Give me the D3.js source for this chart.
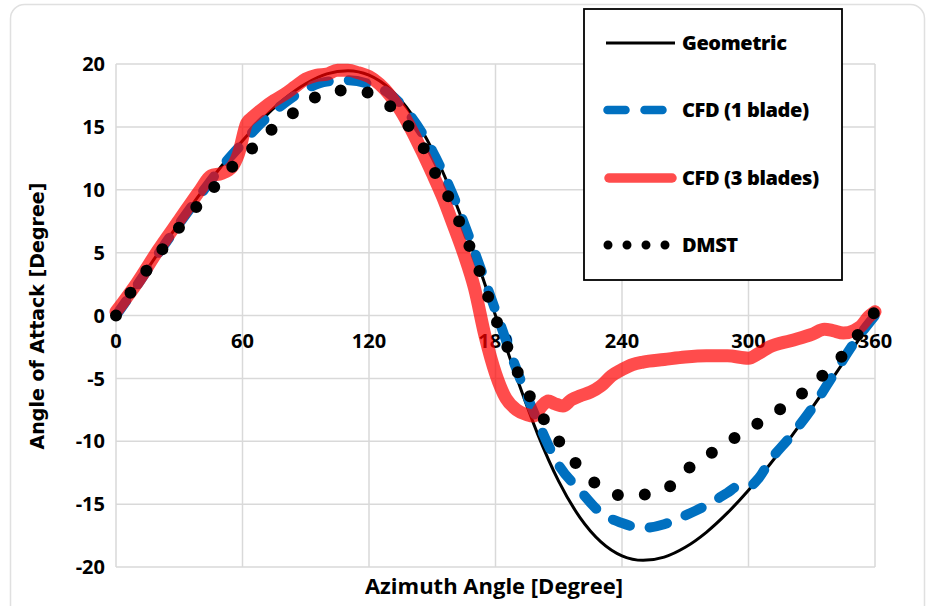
<!DOCTYPE html>
<html><head><meta charset="utf-8">
<script src="https://cdn.jsdelivr.net/npm/d3@7"></script>
<style>
html,body{margin:0;padding:0;background:#fff;}
svg{display:block;}
</style></head>
<body>
<svg id="c" width="932" height="606"></svg>
<script>
// ---- data ----
const xTicks = [0, 60, 120, 180, 240, 300, 360];
const yTicks = [-20, -15, -10, -5, 0, 5, 10, 15, 20];
const seriesNames = ["Geometric", "CFD (1 blade)", "CFD (3 blades)", "DMST"];

const geoAz  = [0,10,20,30,40,50,60,70,80,90,100,110,120,130,140,150,160,170,180,190,200,210,220,230,240,250,260,270,280,290,300,310,320,330,340,350,360];
const geoVal = [0,2.49,4.96,7.37,9.69,11.87,13.9,15.7,17.24,18.43,19.21,19.47,19.11,18.0,16.05,13.19,9.43,4.92,0,-4.92,-9.43,-13.19,-16.05,-18.0,-19.11,-19.47,-19.21,-18.43,-17.24,-15.7,-13.9,-11.87,-9.69,-7.37,-4.96,-2.49,0];

const blueAz  = [0,10,20,30,40,50,60,70,80,90,100,110,120,130,140,150,160,170,180,190,200,210,220,230,240,250,260,270,280,290,295,300,305,310,320,330,340,350,360];
const blueVal = [0,2.4,4.9,7.3,9.6,11.8,13.7,15.5,16.9,18.0,18.6,18.7,18.4,17.6,15.8,13.1,9.5,5.1,0.4,-4.3,-8.4,-11.9,-13.9,-15.7,-16.5,-16.9,-16.6,-15.9,-15.1,-14.1,-13.6,-13.6,-12.9,-11.6,-9.6,-7.4,-4.8,-2.2,0];

const redAz  = [0,10,20,30,40,45,50,55,58,62,65,70,75,80,85,90,95,100,105,110,115,120,125,130,135,140,145,150,155,160,165,170,175,180,185,190,195,198,202,205,208,212,216,220,225,230,235,240,245,250,260,270,280,290,300,305,310,320,330,336,340,345,350,353,357,360];
const redVal = [0.3,2.6,5.2,7.6,10.0,11.1,11.3,11.8,12.8,15.3,15.8,16.5,17.1,17.6,18.2,18.8,19.1,19.2,19.5,19.5,19.3,19.0,18.4,17.5,16.3,14.8,13.1,11.3,9.4,7.2,4.9,2.2,-1.6,-4.6,-6.6,-7.5,-7.9,-8.0,-7.2,-6.8,-7.0,-7.2,-6.7,-6.4,-6.1,-5.6,-4.8,-4.3,-3.9,-3.7,-3.5,-3.3,-3.2,-3.2,-3.4,-3.0,-2.5,-2.0,-1.5,-1.1,-1.2,-1.4,-1.2,-0.9,-0.1,0.3];

const dmstAz  = [0,7,14.6,22.1,30,38.5,47,55.6,64.7,74.3,84.9,95.2,107.8,120.5,131,139.5,146.6,152,158.4,163.5,168.3,173,177.1,181.4,186.1,191.3,197.2,204.3,211.4,219.3,228.5,240.3,253.3,265.2,273.9,284.9,295.5,306.6,317.3,327.6,337.4,346.1,353.7,360];
const dmstVal = [0,1.85,3.6,5.3,7.0,8.7,10.3,11.9,13.3,14.85,16.2,17.4,17.9,17.7,16.5,14.9,13.1,11.1,9.2,7.2,5.25,3.26,1.2,-0.85,-2.7,-4.8,-6.7,-8.6,-10.3,-12.0,-13.5,-14.3,-14.2,-13.3,-11.8,-10.7,-9.5,-8.35,-7.2,-5.9,-4.4,-2.9,-1.1,0.3];

// ---- chart ----
const svg = d3.select("#c");
const x = d3.scaleLinear().domain([0, 360]).range([116, 875]);
const y = d3.scaleLinear().domain([-20, 20]).range([567, 64]);
const grid = "#d9d9d9";
const tickFont = "'Open Sans', sans-serif";

// card border
svg.append("rect").attr("x", 10.5).attr("y", 4.5).attr("width", 914).attr("height", 640)
  .attr("rx", 14).attr("fill", "#fff").attr("stroke", "#e0e0e0").attr("stroke-width", 1.5);

// gridlines
const g = svg.append("g");
g.selectAll("line.h").data(yTicks).join("line")
  .attr("x1", x(0)).attr("x2", x(360)).attr("y1", d => y(d)).attr("y2", d => y(d))
  .attr("stroke", grid).attr("stroke-width", 1.5);
g.selectAll("line.v").data(xTicks).join("line")
  .attr("y1", y(20)).attr("y2", y(-20)).attr("x1", d => x(d)).attr("x2", d => x(d))
  .attr("stroke", grid).attr("stroke-width", 1.5);

// tick labels
svg.append("g").selectAll("text").data(yTicks).join("text")
  .attr("x", 105).attr("y", d => y(d)).attr("dy", "0.36em").attr("text-anchor", "end")
  .attr("font-family", tickFont).attr("font-weight", 700).attr("font-size", 20).attr("fill", "#000")
  .text(d => d);
svg.append("g").selectAll("text").data(xTicks).join("text")
  .attr("x", d => x(d)).attr("y", y(0) + 32).attr("text-anchor", "middle")
  .attr("font-family", tickFont).attr("font-weight", 700).attr("font-size", 20).attr("fill", "#000")
  .text(d => d);

// axis titles
svg.append("text").attr("x", 494).attr("y", 594).attr("text-anchor", "middle")
  .attr("font-family", tickFont).attr("font-weight", 700).attr("font-size", 22)
  .text("Azimuth Angle [Degree]");
svg.append("text").attr("transform", "translate(44,316) rotate(-90)").attr("text-anchor", "middle")
  .attr("font-family", "'DejaVu Sans', Verdana, sans-serif").attr("font-weight", 700).attr("font-size", 19)
  .text("Angle of Attack [Degree]");

const line = (az, val) => d3.line().x((d, i) => x(az[i])).y(d => y(d)).curve(d3.curveMonotoneX)(val);

// series
svg.append("path").attr("d", line(geoAz, geoVal)).attr("fill", "none")
  .attr("stroke", "#000").attr("stroke-width", 3);
svg.append("path").attr("d", line(blueAz, blueVal)).attr("fill", "none")
  .attr("stroke", "#0070c0").attr("stroke-width", 10).attr("stroke-linecap", "round")
  .attr("stroke-dasharray", "18 20");
svg.append("path").attr("d", line(redAz, redVal)).attr("fill", "none")
  .attr("stroke", "#ff0000").attr("stroke-opacity", 0.7).attr("stroke-width", 13)
  .attr("stroke-linecap", "round").attr("stroke-linejoin", "round");
svg.append("path").attr("d", line(dmstAz, dmstVal)).attr("fill", "none")
  .attr("stroke", "#000").attr("stroke-width", 12).attr("stroke-linecap", "round")
  .attr("stroke-dasharray", "0 27");

// legend
const lg = svg.append("g");
lg.append("rect").attr("x", 584).attr("y", 9).attr("width", 258).attr("height", 271)
  .attr("fill", "#fff").attr("stroke", "#000").attr("stroke-width", 1.8);
const rowsY = [43, 110, 178, 245];
lg.append("line").attr("x1", 606).attr("x2", 675).attr("y1", rowsY[0]).attr("y2", rowsY[0])
  .attr("stroke", "#000").attr("stroke-width", 3);
lg.append("line").attr("x1", 607.5).attr("x2", 662.5).attr("y1", rowsY[1]).attr("y2", rowsY[1])
  .attr("stroke", "#0070c0").attr("stroke-width", 8.5).attr("stroke-linecap", "round").attr("stroke-dasharray", "18 19");
lg.append("line").attr("x1", 609).attr("x2", 672).attr("y1", rowsY[2]).attr("y2", rowsY[2])
  .attr("stroke", "#ff0000").attr("stroke-opacity", 0.7).attr("stroke-width", 9.5).attr("stroke-linecap", "round");
lg.append("line").attr("x1", 608).attr("x2", 666).attr("y1", rowsY[3]).attr("y2", rowsY[3])
  .attr("stroke", "#000").attr("stroke-width", 9).attr("stroke-linecap", "round").attr("stroke-dasharray", "0 19");
lg.selectAll("text").data(seriesNames).join("text")
  .attr("x", 682).attr("y", (d, i) => rowsY[i]).attr("dy", "0.36em")
  .attr("font-family", tickFont).attr("font-weight", 800).attr("font-size", 20)
  .attr("letter-spacing", "-0.4").text(d => d);
</script>
</body></html>
